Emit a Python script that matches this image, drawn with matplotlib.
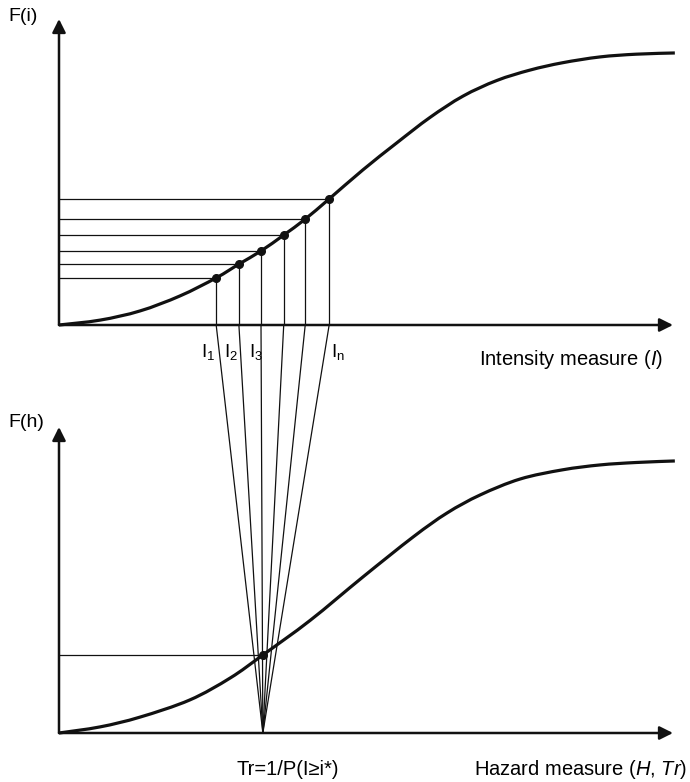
import matplotlib
matplotlib.use("Agg")
import matplotlib.pyplot as plt
import numpy as np
from matplotlib.patches import ConnectionPatch, PathPatch
from matplotlib.path import Path

plt.rcParams['font.family'] = ['Liberation Sans', 'DejaVu Sans']
plt.rcParams['mathtext.fontset'] = 'custom'
plt.rcParams['mathtext.rm'] = 'Liberation Sans'
plt.rcParams['mathtext.it'] = 'Liberation Sans:italic'
plt.rcParams['mathtext.default'] = 'regular'

# Top curve: intensity measure vs F(i) (normalised, axis origin = 0, arrow tip = 1)
int_x = [0.0, 0.067, 0.132, 0.197, 0.256, 0.293, 0.329, 0.366, 0.401, 0.440,
         0.495, 0.550, 0.604, 0.658, 0.713, 0.767, 0.820, 0.881, 0.940, 1.003]
int_F = [0.0, 0.016, 0.046, 0.095, 0.154, 0.199, 0.242, 0.294, 0.346, 0.412,
         0.507, 0.595, 0.678, 0.748, 0.799, 0.833, 0.857, 0.876, 0.885, 0.889]

# sampled intensities I1..In and their F values
I_vals = [0.256, 0.293, 0.329, 0.366, 0.401, 0.440]
I_F = [0.154, 0.199, 0.242, 0.294, 0.346, 0.412]
I_labels = ['$I_1$', '$I_2$', '$I_3$', '$I_n$']
I_label_x = [0.231, 0.269, 0.309, 0.443]

# Bottom curve: hazard measure vs F(h)
haz_x = [0.0, 0.067, 0.132, 0.213, 0.279, 0.332, 0.409, 0.495, 0.577, 0.632,
         0.686, 0.751, 0.820, 0.881, 0.940, 1.003]
haz_F = [0.0, 0.020, 0.052, 0.108, 0.180, 0.255, 0.368, 0.510, 0.641, 0.719,
         0.778, 0.830, 0.860, 0.876, 0.884, 0.889]

# return period point
Tr_x = 0.332
Tr_F = 0.255

INK = '#111111'


def smooth_curve(ax, xs, ys, lw):
    # draws the read points as one smooth bezier path (catmull-rom tangents)
    p = np.column_stack([xs, ys])
    verts = [p[0]]
    codes = [Path.MOVETO]
    n = len(p)
    for i in range(n - 1):
        p0 = p[i - 1] if i > 0 else p[i]
        p3 = p[i + 2] if i + 2 < n else p[i + 1]
        c1 = p[i] + (p[i + 1] - p0) / 6
        c2 = p[i + 1] - (p3 - p[i]) / 6
        verts += [c1, c2, p[i + 1]]
        codes += [Path.CURVE4] * 3
    patch = PathPatch(Path(verts, codes), fill=False, lw=lw, edgecolor=INK,
                      clip_on=False, capstyle='butt')
    ax.add_patch(patch)


fig = plt.figure(figsize=(6.9, 7.82), dpi=100)
ax_top = fig.add_axes([59 / 690, 457 / 782, 614 / 690, 306 / 782])
ax_bot = fig.add_axes([59 / 690, 49 / 782, 614 / 690, 306 / 782])

for ax in (ax_top, ax_bot):
    ax.set_xlim(0, 1)
    ax.set_ylim(0, 1)
    ax.axis('off')
    arrow = dict(arrowstyle='-|>', lw=1.8, color=INK, mutation_scale=20,
                 shrinkA=0, shrinkB=0)
    ax.annotate('', xy=(1, 0), xytext=(0, 0), arrowprops=arrow, annotation_clip=False)
    ax.annotate('', xy=(0, 1), xytext=(0, 0), arrowprops=arrow, annotation_clip=False)

# top panel
smooth_curve(ax_top, int_x, int_F, 2.3)
for x, f in zip(I_vals, I_F):
    ax_top.plot([0, x], [f, f], color=INK, lw=0.9)
    ax_top.plot([x, x], [f, 0], color=INK, lw=0.9)
    con = ConnectionPatch(xyA=(x, 0), coordsA=ax_top.transData,
                          xyB=(Tr_x, 0), coordsB=ax_bot.transData,
                          color=INK, lw=0.9)
    fig.add_artist(con)
ax_top.plot(I_vals, I_F, 'o', color=INK, ms=5.5)

for lab, x in zip(I_labels, I_label_x):
    ax_top.text(x, -0.105, lab, fontsize=13.5, ha='left', va='baseline')

ax_top.text(-0.083, 1.007, 'F(i)', fontsize=14, ha='left', va='center')
ax_top.text(0.984, -0.114, r'Intensity measure ($\mathit{I}$)', fontsize=14.5,
            ha='right', va='center')

# bottom panel
smooth_curve(ax_bot, haz_x, haz_F, 2.3)
ax_bot.plot([0, Tr_x], [Tr_F, Tr_F], color=INK, lw=0.9)
ax_bot.plot([Tr_x], [Tr_F], 'o', color=INK, ms=5.5)

ax_bot.text(-0.083, 1.016, 'F(h)', fontsize=14, ha='left', va='center')
ax_bot.text(0.373, -0.118, 'Tr=1/P(I≥i*)', fontsize=14.5, ha='center', va='center')
ax_bot.text(1.023, -0.118, r'Hazard measure ($\mathit{H}$, $\mathit{Tr}$)', fontsize=14.5,
            ha='right', va='center')

fig.savefig('out.png', dpi=100)
